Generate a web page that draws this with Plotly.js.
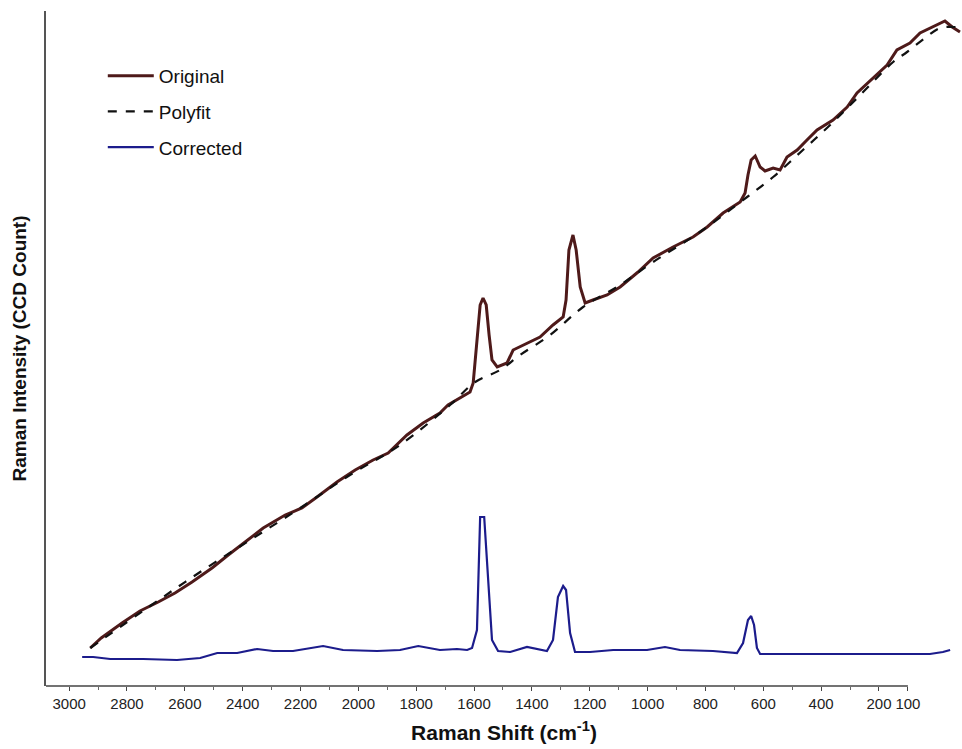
<!DOCTYPE html>
<html>
<head>
<meta charset="utf-8">
<script src="https://cdn.plot.ly/plotly-3.0.1.min.js"></script>
<style>html,body{margin:0;padding:0;background:#fff;}#chart{width:962px;height:749px;}</style>
</head>
<body>
<div id="chart"></div>
<script>
// Raman shift (cm^-1) and intensity (arbitrary CCD counts)
const origShift = [2927,2889,2817,2755,2692,2634,2575,2506,2450,2385,2329,2253,2195,2143,2074,2011,1949,1897,1832,1776,1718,1690,1648,1614,1603,1590,1579,1569,1558,1548,1538,1520,1486,1465,1417,1372,1327,1292,1282,1272,1258,1247,1233,1216,1189,1140,1095,1033,981,912,843,794,739,680,663,653,642,628,611,594,566,542,518,483,449,414,359,310,276,221,172,138,93,58,13,-28,-53,-80];
const origInt   = [38,48,63,75,84,93,104,118,131,146,158,171,178,189,204,216,226,233,251,263,273,281,288,294,303,346,381,388,381,351,326,319,323,336,343,349,361,369,386,436,451,436,399,383,386,391,399,414,428,439,449,459,473,484,493,511,526,530,519,515,518,516,529,536,546,556,566,579,593,608,621,636,643,653,659,665,659,654];

const fitShift = [2927,2720,2547,2374,2201,2029,1856,1683,1596,1510,1441,1337,1223,1095,981,819,656,566,463,369,265,151,103,41,-11,-63,-80];
const fitInt   = [38,80,114,146,178,211,241,281,304,316,331,351,379,401,424,454,489,509,536,561,591,624,634,648,658,659,658];

const corrShift = [2955,2917,2858,2744,2627,2547,2488,2419,2350,2295,2226,2156,2122,2053,1935,1856,1793,1718,1659,1624,1607,1590,1579,1565,1551,1538,1517,1475,1417,1348,1327,1310,1292,1282,1268,1251,1199,1119,1002,940,888,774,691,670,653,642,632,622,611,428,196,24,-21,-46];
const corrInt   = [29,29,27,27,26,28,33,33,37,35,35,38,40,36,35,36,40,36,37,36,38,56,169,169,106,46,35,34,39,35,46,89,100,96,53,34,34,36,36,39,36,35,33,43,66,70,61,38,32,32,32,32,34,36];

const tickVals = [3000,2800,2600,2400,2200,2000,1800,1600,1400,1200,1000,800,600,400,200,100];
const tickText = ["3000","2800","2600","2400","2200","2000","1800","1600","1400","1200","1000","800","600","400","200","100"];
const minorVals = [2900,2700,2500,2300,2100,1900,1700,1500,1300,1100,900,700,500,300];

const traces = [
  {x: origShift, y: origInt, name: "Original", mode: "lines", legendgroup: "a",
   line: {color: "#4e1a1a", width: 3}},
  {x: fitShift, y: fitInt, name: "Polyfit", mode: "lines", legendgroup: "b",
   line: {color: "#111", width: 2.2, dash: "dash", shape: "spline"}},
  {x: corrShift, y: corrInt, name: "Corrected", mode: "lines", legendgroup: "c",
   line: {color: "#1c1c8c", width: 2.2}}
];

const layout = {
  width: 962, height: 749,
  margin: {l: 46, r: 0, t: 11, b: 63},
  paper_bgcolor: "#fff", plot_bgcolor: "#fff",
  showlegend: true,
  legend: {x: 0.062, y: 0.932, xanchor: "left", yanchor: "top",
    font: {family: "Liberation Sans, Arial, sans-serif", size: 19, color: "#111"},
    bgcolor: "rgba(0,0,0,0)", traceorder: "grouped", tracegroupgap: 8, itemwidth: 46},
  xaxis: {
    range: [3080, -87], showgrid: false, zeroline: false, showline: false,
    tickmode: "array", tickvals: tickVals, ticktext: tickText, tickangle: 0,
    ticks: "outside", ticklen: 4, tickcolor: "#444", tickwidth: 1,
    minor: {tickmode: "array", tickvals: minorVals, ticks: "outside", ticklen: 3, tickcolor: "#666"},
    tickfont: {family: "Liberation Sans, Arial, sans-serif", size: 15, color: "#222"},
    title: {text: "<b>Raman Shift (cm<sup>-1</sup>)</b>", standoff: 14,
      font: {family: "Liberation Sans, Arial, sans-serif", size: 21, color: "#111"}}
  },
  yaxis: {
    range: [0, 675], showgrid: false, zeroline: false, showticklabels: false, ticks: "",
    showline: true, linecolor: "#555", linewidth: 2,
    title: {text: "<b>Raman Intensity (CCD Count)</b>", standoff: 12,
      font: {family: "Liberation Sans, Arial, sans-serif", size: 19, color: "#111"}}
  },
  shapes: [
    {type: "line", xref: "x", yref: "paper", x0: 3080, x1: 100, y0: 0, y1: 0,
     line: {color: "#444", width: 1.5}}
  ]
};

Plotly.newPlot("chart", traces, layout, {displayModeBar: false, staticPlot: true});
</script>
</body>
</html>
